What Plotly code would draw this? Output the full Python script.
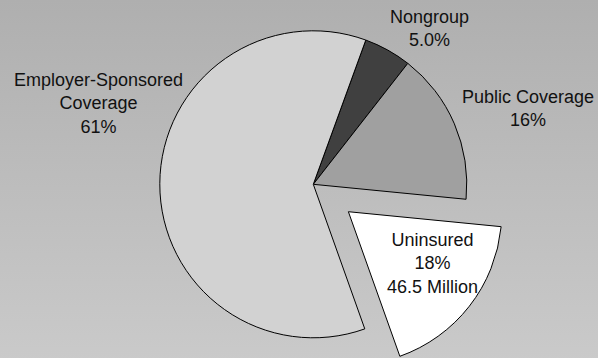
import math
import plotly.graph_objects as go

# Health coverage shares (percent of population)
labels = ["Nongroup", "Public Coverage", "Uninsured", "Employer-Sponsored Coverage"]
label_lines = ["Nongroup", "Public Coverage", "Uninsured", "Employer-Sponsored<br>Coverage"]
shares = [5.0, 16, 18, 61]
uninsured_millions = 46.5
slice_colors = ["#404040", "#a0a0a0", "#ffffff", "#d2d2d2"]

W, H = 598, 380          # drawing is taller than the visible 358 px window
VISIBLE_H = 358
CX, CY, R = 313.3, 184.3, 153.5   # pie centre / radius in pixels
START = 20                          # first slice starts 20 deg clockwise of 12 o'clock
PULL = 0.29                         # explode distance of the uninsured slice (fraction of R)
FONT = "Liberation Sans, Arial, sans-serif"


def pct(v):
    return f"{v:.1f}%" if v < 10 else f"{v:.0f}%"


def domain(cx, cy, r):
    return dict(x=[(cx - r) / W, (cx + r) / W], y=[1 - (cy + r) / H, 1 - (cy - r) / H])


exploded = labels.index("Uninsured")
mid_angle = math.radians(START + 360 * (sum(shares[:exploded]) + shares[exploded] / 2) / sum(shares))
ex_cx = CX + PULL * R * math.sin(mid_angle)
ex_cy = CY - PULL * R * math.cos(mid_angle)

clear = "rgba(0,0,0,0)"
fig = go.Figure()

# vertical grey gradient behind everything
fig.add_trace(go.Scatter(
    x=[0, 1, 1, 0, 0], y=[0, 0, 1, 1, 0], mode="lines", fill="toself",
    line=dict(width=0, color=clear),
    fillgradient=dict(type="vertical", start=0, stop=1,
                      colorscale=[[0, "#cdcdcd"], [1, "#afafaf"]]),
    hoverinfo="skip", showlegend=False,
))

# main pie (uninsured slice left out)
fig.add_trace(go.Pie(
    labels=labels, values=shares, sort=False, direction="clockwise", rotation=START,
    domain=domain(CX, CY, R), textinfo="none", hoverinfo="skip", showlegend=False,
    marker=dict(colors=[clear if i == exploded else c for i, c in enumerate(slice_colors)],
                line=dict(color="black", width=[0 if i == exploded else 1 for i in range(len(shares))])),
))

# exploded uninsured slice
fig.add_trace(go.Pie(
    labels=labels, values=shares, sort=False, direction="clockwise", rotation=START,
    domain=domain(ex_cx, ex_cy, R), textinfo="none", hoverinfo="skip", showlegend=False,
    marker=dict(colors=[c if i == exploded else clear for i, c in enumerate(slice_colors)],
                line=dict(color="black", width=[1 if i == exploded else 0 for i in range(len(shares))])),
))

# slice labels (pixel centres)
label_pos = [(429, 28), (528, 108), (432.7, 263.5), (98, 103.5)]
for i, (px, py) in enumerate(label_pos):
    text = f"{label_lines[i]}<br>{pct(shares[i])}"
    if i == exploded:
        text += f"<br>{uninsured_millions} Million"
    fig.add_annotation(
        x=px / W, y=1 - py / H, xref="paper", yref="paper", text=text, showarrow=False,
        xanchor="center", yanchor="middle", align="center",
        font=dict(family=FONT, size=18, color="#111111"),
    )

fig.update_xaxes(visible=False, range=[0, 1], fixedrange=True)
fig.update_yaxes(visible=False, range=[1 - VISIBLE_H / H, 1], fixedrange=True)
fig.update_layout(
    width=W, height=H, margin=dict(l=0, r=0, t=0, b=0),
    paper_bgcolor="#c0c0c0", plot_bgcolor="#c0c0c0",
)

fig.write_html(
    "out.html",
    post_script="document.documentElement.style.overflow='hidden';document.body.style.overflow='hidden';document.body.style.margin='0';",
)
